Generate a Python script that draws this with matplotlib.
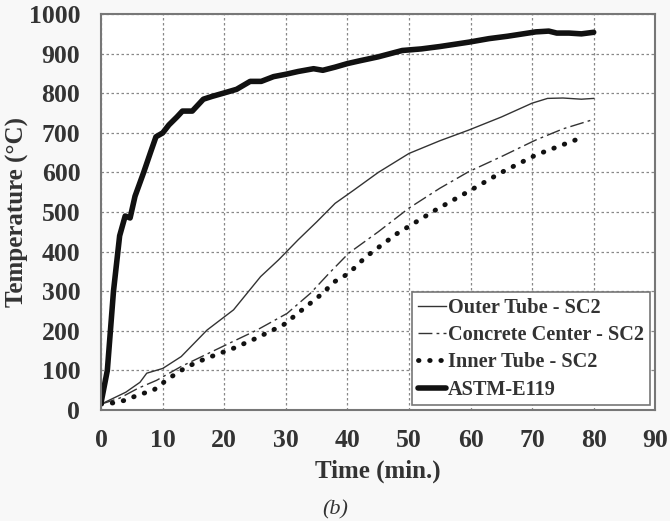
import matplotlib
matplotlib.use("Agg")
import matplotlib.pyplot as plt

# ASTM-E119 furnace curve
astm_t = [0, 1, 2, 3, 3.9, 4.7, 5.5, 6.9, 8.0, 8.9, 10, 11, 12.3, 13.2, 14.8, 16.6,
          18, 19.8, 22, 24.2, 26, 28, 30, 32, 34.5, 36, 38, 40, 42, 45, 48.9,
          52, 55, 59.7, 63, 66, 70.6, 72.7, 74, 76, 78, 80]
astm_T = [20, 100, 300, 440, 490, 485, 540, 600, 650, 690, 700, 720, 740, 755, 755, 785,
          792, 800, 810, 830, 830, 842, 848, 855, 862, 858, 866, 875, 882, 892, 908,
          912, 918, 929, 938, 944, 955, 957, 952, 952, 950, 954]

outer_t = [0, 2, 4, 6.3, 7.4, 10, 13, 17.2, 21.5, 25.9, 28.8, 32, 35, 38, 41, 45,
           50, 55, 59.7, 65, 70, 72.5, 75, 78, 80]
outer_T = [15, 30, 45, 70, 93, 105, 135, 202, 253, 337, 379, 430, 475, 522, 555, 600,
           648, 680, 707, 740, 775, 787, 788, 785, 787]

concrete_t = [0, 3, 6, 9, 13, 17, 21, 25.3, 30.2, 34, 37, 40.2, 45, 50, 55, 59.7,
              65, 70.6, 75, 80]
concrete_T = [15, 30, 55, 75, 110, 140, 170, 202, 244, 295, 345, 396, 450, 510, 560, 602,
              640, 682, 710, 734]

inner_t = [0, 2, 4, 6, 8.5, 11, 13.9, 17, 21.5, 25, 29.6, 32, 35.6, 38, 40.2, 43,
           48, 54.3, 60, 65, 70.6, 75, 78.4]
inner_T = [15, 18, 25, 38, 50, 80, 109, 130, 156, 180, 215, 245, 290, 325, 345, 387,
           445, 505, 555, 600, 644, 670, 690]

xticks = list(range(0, 91, 10))
yticks = list(range(0, 1001, 100))

plt.rcParams["font.family"] = ["Liberation Serif", "DejaVu Serif"]
plt.rcParams["font.weight"] = "bold"

fig = plt.figure(figsize=(6.7, 5.21), dpi=100, facecolor="#f8f8f8")
ax = fig.add_axes([0.151, 0.213, 0.827, 0.760])
ax.set_facecolor("white")

ax.plot(outer_t, outer_T, color="#333333", linewidth=1.0, label="Outer Tube - SC2")
ax.plot(concrete_t, concrete_T, color="#333333", linewidth=1.0,
        dashes=(10, 3, 2, 3), label="Concrete Center - SC2")
ax.plot(inner_t, inner_T, color="#111111", linewidth=3.5, linestyle=(0, (0.1, 2.2)),
        dash_capstyle="round", label="Inner Tube - SC2")
ax.plot(astm_t, astm_T, color="#111111", linewidth=4.0, solid_capstyle="round",
        label="ASTM-E119")

ax.set_xlim(0, 90)
ax.set_ylim(0, 1000)
ax.set_xticks(xticks)
ax.set_yticks(yticks)
ax.tick_params(labelsize=18.5, length=0)
ax.tick_params(axis="x", pad=14)
ax.tick_params(axis="y", pad=15)
for lab in ax.get_xticklabels() + ax.get_yticklabels():
    lab.set_fontweight("bold")
    lab.set_color("#333333")

ax.grid(True, color="#888888", linestyle=(0, (2, 2)), linewidth=0.9)
for s in ax.spines.values():
    s.set_color("#777777")
    s.set_linewidth(1.5)

ax.set_xlabel("Time (min.)", fontsize=18, fontweight="bold", color="#333333", labelpad=5)
ax.set_ylabel("Temperature (\u00b0C)", fontsize=18, fontweight="bold", color="#333333",
              labelpad=0)

leg = ax.legend(loc="upper left", bbox_to_anchor=(0.561, 0.298), fontsize=14.6,
                handlelength=1.4, handletextpad=0.1, borderpad=0.28, labelspacing=0.36,
                fancybox=False, framealpha=1, borderaxespad=0)
leg.get_frame().set_edgecolor("#777777")
leg.get_frame().set_linewidth(1.2)
for t in leg.get_texts():
    t.set_color("#333333")

fig.text(0.5, 0.022, "(b)", ha="center", va="center", fontsize=16, style="italic",
         fontweight="normal", color="#333333")

fig.savefig("out.png", dpi=100, facecolor=fig.get_facecolor())
